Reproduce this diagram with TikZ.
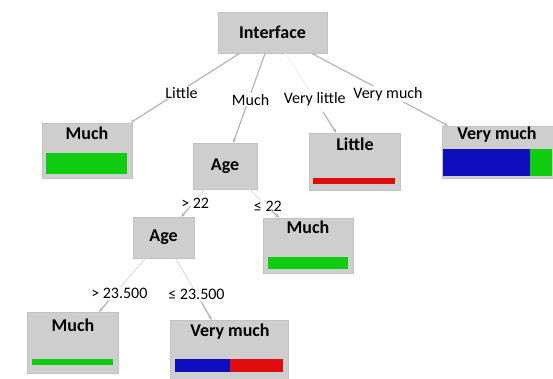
\documentclass[tikz,border=0pt]{standalone}
\usepackage{fontspec}
\setmainfont{Carlito}
\usetikzlibrary{arrows.meta}
\definecolor{boxgray}{RGB}{206,206,206}
\definecolor{edgegray}{RGB}{182,182,182}
\definecolor{lightedge}{RGB}{222,222,222}
\definecolor{faintgray}{RGB}{240,240,240}
\definecolor{barGreen}{RGB}{16,204,16}
\definecolor{barBlue}{RGB}{14,14,190}
\definecolor{barRed}{RGB}{222,12,12}
\begin{document}
\begin{tikzpicture}[x=1pt,y=-1pt,
  box/.style={fill=boxgray, draw=boxgray!94!black, line width=0.5pt, inner sep=0pt,
    font=\bfseries\fontsize{18}{20}\selectfont},
  title/.style={inner sep=0pt, font=\bfseries\fontsize{18}{20}\selectfont},
  edge/.style={draw=edgegray, line width=1.2pt, -{Stealth[length=4pt,width=3.5pt]}},
  lightline/.style={draw=lightedge, line width=1pt},
  faint/.style={draw=faintgray, line width=1.2pt},
  lbl/.style={fill=white, inner sep=1pt, font=\fontsize{16}{18}\selectfont}]
\useasboundingbox[fill=white] (0,0) rectangle (553,379);

% decision nodes
\node[box, minimum width=109pt, minimum height=41pt] (iface) at (272.5,32.5) {Interface};
\node[box, minimum width=64pt, minimum height=46pt] (age1) at (225,166) {Age};
\node[box, minimum width=61pt, minimum height=41pt] (age2) at (163.5,237.5) {Age};

% leaf nodes
\node[box, minimum width=90pt, minimum height=55pt] (much1) at (87,150.5) {};
\node[box, minimum width=91pt, minimum height=57pt] (little) at (354.5,161.5) {};
\node[box, minimum width=111pt, minimum height=52pt] (vmuch1) at (497.5,152) {};
\node[box, minimum width=90pt, minimum height=55pt] (much2) at (308,245.5) {};
\node[box, minimum width=91pt, minimum height=61pt] (much3) at (72.5,342.5) {};
\node[box, minimum width=118pt, minimum height=59pt] (vmuch2) at (229,349.5) {};

% leaf titles
\node[title] (much1t) at (87,133) {Much};
\node[title] (littlet) at (355,144) {Little};
\node[title] (vmuch1t) at (497,135) {Very much};
\node[title] (much2t) at (308,227) {Much};
\node[title] (much3t) at (73,325) {Much};
\node[title] (vmuch2t) at (230,332) {Very much};

% leaf bars
\fill[barGreen] (46,153) rectangle (127,174);
\fill[barRed] (313,178) rectangle (395,184);
\fill[barBlue] (443,149) rectangle (530,176);
\fill[barGreen] (530,149) rectangle (552,176);
\fill[barGreen] (268,257) rectangle (348,269);
\fill[barGreen] (32,359) rectangle (113,365);
\fill[barBlue] (175,359) rectangle (230,372);
\fill[barRed] (230,359) rectangle (283,372);

% connectors
\draw[edge] (iface) -- (much1) node[lbl, pos=0.57, xshift=4pt] {Little};
\draw[edge] (iface) -- (age1) node[lbl, pos=0.52, xshift=2pt] {Much};
\draw[faint] (iface) -- (little) coordinate[pos=0.74] (vl) node[lbl, pos=0.575] {Very little};
\draw[edge] (vl) -- (little);
\draw[edge] (iface) -- (vmuch1) node[lbl, pos=0.56] {Very much};

\draw[lightline] (age1) -- (age2) coordinate[pos=0.62] (s1) node[lbl, pos=0.5, xshift=2pt] {> 22};
\draw[edge] (s1) -- (age2);
\draw[lightline] (age1) -- (much2) coordinate[pos=0.72] (s2) node[lbl, pos=0.59, xshift=1pt] {≤ 22};
\draw[edge] (s2) -- (much2);
\draw[lightline] (age2) -- (much3) coordinate[pos=0.8] (s3) node[lbl, pos=0.65, xshift=4pt] {> 23.500};
\draw[edge] (s3) -- (much3);
\draw[lightline] (age2) -- (vmuch2) coordinate[pos=0.72] (s4) node[lbl, pos=0.58] {≤ 23.500};
\draw[edge] (s4) -- (vmuch2);
\end{tikzpicture}
\end{document}
